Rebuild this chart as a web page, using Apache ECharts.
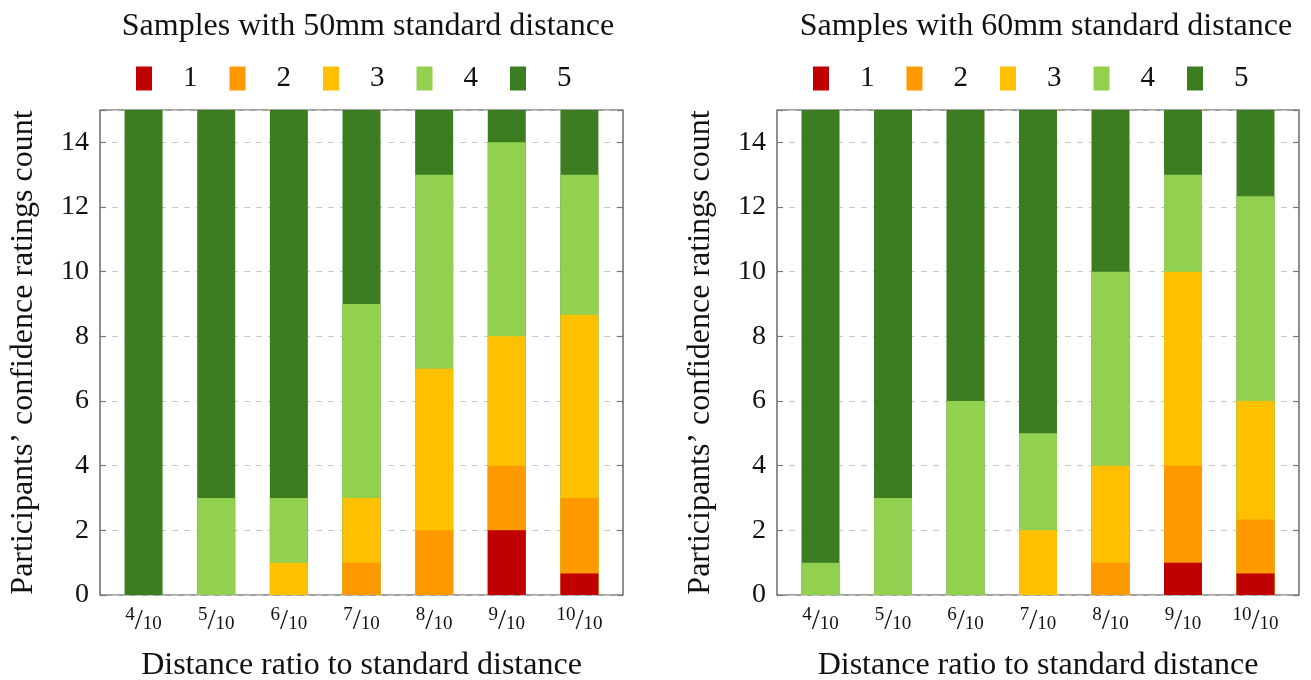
<!DOCTYPE html>
<html>
<head>
<meta charset="utf-8">
<script src="https://cdn.jsdelivr.net/npm/echarts@6/dist/echarts.min.js"></script>
<style>html,body{margin:0;padding:0;background:#fff}#c{width:1311px;height:680px}</style>
</head>
<body>
<div id="c"></div>
<script>
// Distance ratios (numerators of x/10)
var ratios = [4, 5, 6, 7, 8, 9, 10];
var ratingNames = ['1', '2', '3', '4', '5'];
var titles = ['Samples with 50mm standard distance', 'Samples with 60mm standard distance'];
var yTicks = [0, 2, 4, 6, 8, 10, 12, 14];

// 50mm panel: counts per rating
var l50_r1 = [0, 0, 0, 0, 0, 2, 0.667];
var l50_r2 = [0, 0, 0, 1, 2, 2, 2.333];
var l50_r3 = [0, 0, 1, 2, 5, 4, 5.667];
var l50_r4 = [0, 3, 2, 6, 6, 6, 4.333];
var l50_r5 = [15, 12, 12, 6, 2, 1, 2];

// 60mm panel: counts per rating
var r60_r1 = [0, 0, 0, 0, 0, 1, 0.667];
var r60_r2 = [0, 0, 0, 0, 1, 3, 1.667];
var r60_r3 = [0, 0, 0, 2, 3, 6, 3.667];
var r60_r4 = [1, 3, 6, 3, 6, 3, 6.333];
var r60_r5 = [14, 12, 9, 10, 5, 2, 2.667];

var colors = ['#C00000', '#FF9900', '#FFC000', '#92D050', '#3C7D22'];
var FONT = 'Liberation Serif';

var panels = [
  [l50_r1, l50_r2, l50_r3, l50_r4, l50_r5],
  [r60_r1, r60_r2, r60_r3, r60_r4, r60_r5]
];

var grids = [
  {left: 100, right: 688, top: 110, bottom: 85},
  {left: 777, right: 12, top: 110, bottom: 85}
];

var xAxes = [], yAxes = [], series = [], legends = [], titleComps = [];
grids.forEach(function (g, gi) {
  g.show = true; g.borderColor = '#444'; g.borderWidth = 1.2; g.backgroundColor = 'transparent';
  g.containLabel = false; g.outerBoundsMode = 'none';
  xAxes.push({
    type: 'value', gridIndex: gi, min: 3.4, max: 10.6,
    axisLine: {show: false}, splitLine: {show: false},
    axisTick: {show: false},
    axisLabel: {
      customValues: ratios, margin: 11,
      formatter: function (v) { return '{n|' + v + '}{s|/}{d|10}'; },
      rich: {
        n: {fontFamily: FONT, fontSize: 19, color: '#111', padding: [0, 0, 11, 0]},
        s: {fontFamily: FONT, fontSize: 29, color: '#111'},
        d: {fontFamily: FONT, fontSize: 19, color: '#111', padding: [7, 0, 0, 0]}
      }
    },
    name: 'Distance ratio to standard distance', nameLocation: 'middle', nameGap: 55,
    nameTextStyle: {fontFamily: FONT, fontSize: 32, color: '#111'}
  });
  yAxes.push({
    type: 'value', gridIndex: gi, min: 0, max: 15, interval: 2,
    axisLine: {show: false},
    axisTick: {show: true, inside: true, length: 6, lineStyle: {color: '#777', width: 1.2}},
    splitLine: {show: true, lineStyle: {color: '#c8c8c8', type: [6, 6], width: 1}},
    axisLabel: {
      fontFamily: FONT, fontSize: 28, color: '#111', margin: 11,
      customValues: yTicks
    },
    name: 'Participants\u2019 confidence ratings count', nameLocation: 'middle', nameGap: 60,
    nameTextStyle: {fontFamily: FONT, fontSize: 32, color: '#111'}
  });
  yAxes.push({
    type: 'value', gridIndex: gi, position: 'right', min: 0, max: 15, interval: 2,
    axisLine: {show: false},
    axisTick: {show: true, inside: true, length: 6, lineStyle: {color: '#777', width: 1.2}},
    splitLine: {show: false}, axisLabel: {show: false}
  });
  // cumulative tops so that the segments appear stacked (drawn top rating first)
  var arrs = panels[gi];
  var cum = [];
  arrs.forEach(function (arr, si) {
    cum.push(arr.map(function (v, i) {
      var s = 0;
      for (var k = 0; k <= si; k++) s += arrs[k][i];
      return s;
    }));
  });
  for (var si = arrs.length - 1; si >= 0; si--) {
    series.push({
      type: 'bar', name: ratingNames[si],
      xAxisIndex: gi, yAxisIndex: gi * 2, barWidth: 38, barGap: '-100%',
      itemStyle: {color: colors[si]},
      z: 2 + (arrs.length - si),
      data: cum[si].map(function (v, i) { return [ratios[i], v]; })
    });
  }
  legends.push({
    data: ratingNames, left: g.left + 31, top: 59, orient: 'horizontal',
    icon: 'rect', itemWidth: 16, itemHeight: 24, itemGap: 32, selectedMode: false,
    textStyle: {fontFamily: FONT, fontSize: 29, color: '#111', padding: [0, 0, 0, 26]}
  });
  titleComps.push({
    text: titles[gi], left: gi === 0 ? 363 : 1041, textAlign: 'center', top: 6,
    textStyle: {fontFamily: FONT, fontSize: 32, fontWeight: 'normal', color: '#111'}
  });
});

var chart = echarts.init(document.getElementById('c'), null, {renderer: 'canvas'});
chart.setOption({
  animation: false,
  color: colors,
  title: titleComps,
  legend: legends,
  grid: grids,
  xAxis: xAxes,
  yAxis: yAxes,
  series: series
});
</script>
</body>
</html>
